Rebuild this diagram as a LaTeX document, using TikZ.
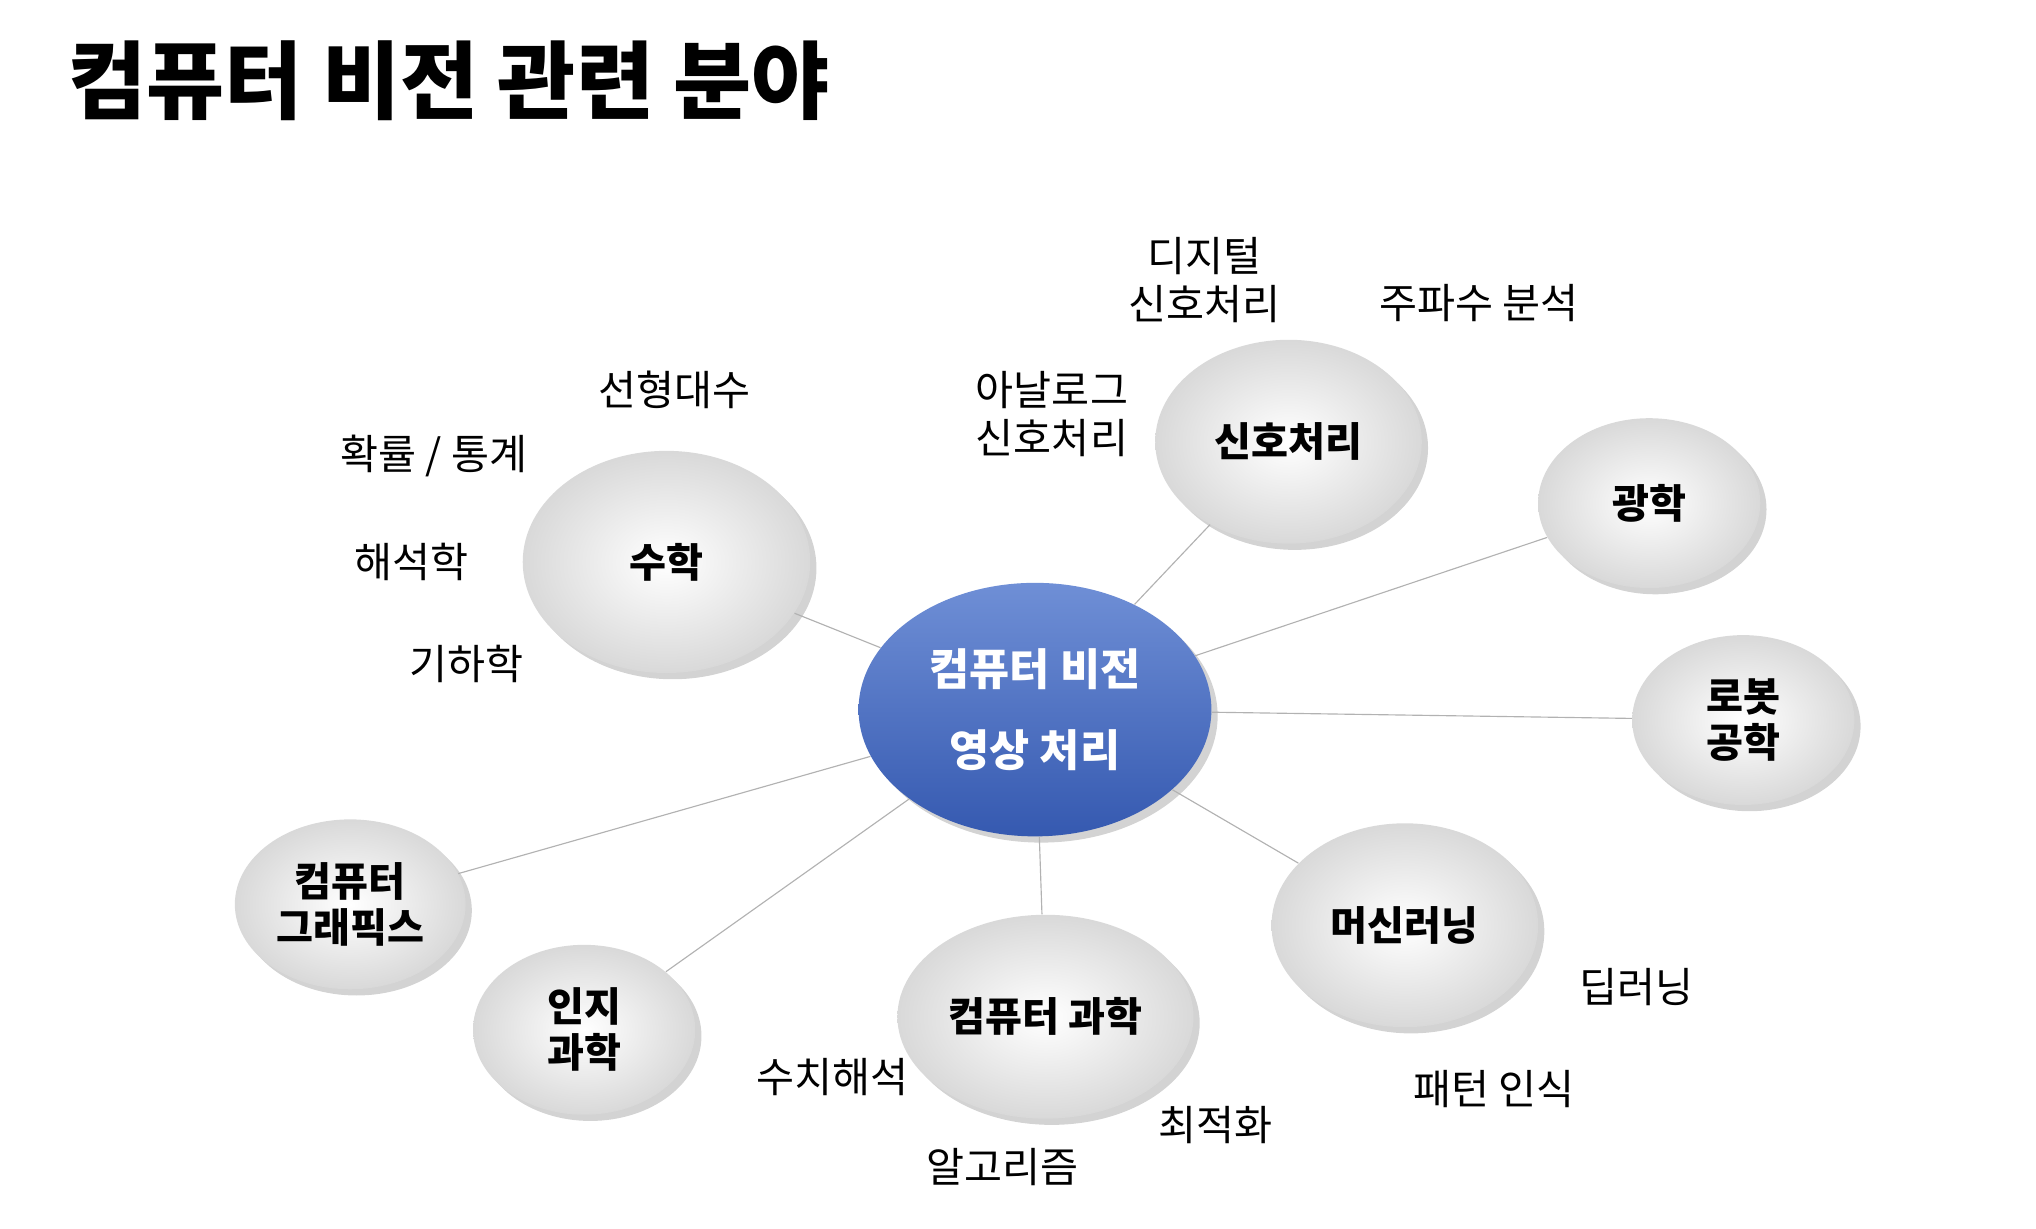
\documentclass[tikz,border=0pt]{standalone}
\usepackage{fontspec}
\setmainfont{Noto Sans CJK KR}
\usetikzlibrary{shapes.geometric,shadows}
\definecolor{hubtop}{HTML}{6F8FD6}
\definecolor{hubbot}{HTML}{3559B0}
\tikzset{
  bub/.style 2 args={ellipse, minimum width=#1*0.02cm, minimum height=#2*0.02cm,
    inner color=white, outer color=gray!30, drop shadow={opacity=0.35},
    font=\fontsize{17.5}{20}\selectfont\bfseries, align=center},
  hub/.style={ellipse, minimum width=270*0.02cm, minimum height=194*0.02cm,
    top color=hubtop, bottom color=hubbot, drop shadow={opacity=0.35},
    text=white, font=\fontsize{19}{35}\selectfont\bfseries, align=center},
  lbl/.style={font=\fontsize{18}{21}\selectfont, align=center},
  link/.style={draw=gray!60, line width=0.5pt}
}
\begin{document}
\begin{tikzpicture}[x=0.02cm,y=-0.02cm]
  \useasboundingbox (0,0) rectangle (1558,940);
  \node[anchor=west, font=\fontsize{37}{40}\selectfont\bfseries] (title) at (46,62) {컴퓨터 비전 관련 분야};

  % center
  \node[hub] (cv) at (792,543) {컴퓨터 비전\\영상 처리};

  % fields
  \node[bub={220}{170}] (math) at (510,430) {수학};
  \node[bub={204}{156}] (sig) at (986,338) {신호처리};
  \node[bub={170}{130}] (opt) at (1262,385) {광학};
  \node[bub={170}{130}] (rob) at (1334,551) {로봇\\공학};
  \node[bub={204}{156}] (ml) at (1075,708) {머신러닝};
  \node[bub={204}{156}] (cs) at (800,778) {컴퓨터 과학};
  \node[bub={170}{130}] (cog) at (447,788) {인지\\과학};
  \node[bub={170}{130}] (cg) at (268,692) {컴퓨터\\그래픽스};

  \foreach \n in {math,sig,opt,rob,ml,cs,cog,cg}
    \draw[link] (cv) -- (\n);

  % sub topics
  \node[lbl] (la) at (516,298) {선형대수};
  \node[lbl] (prob) at (332,349) {확률 / 통계};
  \node[lbl] (ana) at (315,430) {해석학};
  \node[lbl] (geo) at (357,508) {기하학};
  \node[lbl] (dsp) at (922,214) {디지털\\신호처리};
  \node[lbl] (asp) at (805,317) {아날로그\\신호처리};
  \node[lbl] (freq) at (1132,232) {주파수 분석};
  \node[lbl] (dl) at (1252,755) {딥러닝};
  \node[lbl] (pr) at (1143,833) {패턴 인식};
  \node[lbl] (num) at (637,824) {수치해석};
  \node[lbl] (optm) at (930,861) {최적화};
  \node[lbl] (alg) at (767,893) {알고리즘};
\end{tikzpicture}
\end{document}
